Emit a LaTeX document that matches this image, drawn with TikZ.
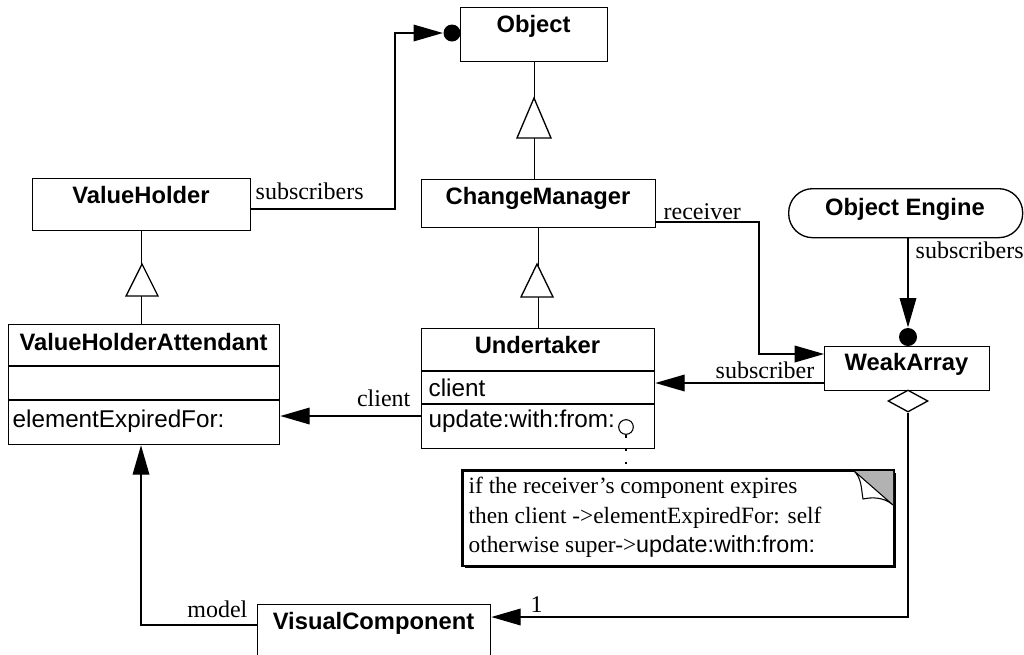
\documentclass[tikz,border=0pt]{standalone}
\usepackage{fontspec}
\setmainfont{Liberation Serif}
\setsansfont{Liberation Sans}
\usetikzlibrary{arrows.meta,shapes.geometric,calc}

\begin{document}
\begin{tikzpicture}[x=0.75pt,y=-0.75pt,line width=1pt,
  box/.style={draw,rectangle,inner sep=0pt,anchor=north west},
  title/.style={font=\sffamily\bfseries\fontsize{17.8}{20}\selectfont,anchor=base,inner sep=0pt},
  member/.style={font=\sffamily\fontsize{18.2}{20}\selectfont,anchor=base west,inner sep=0pt},
  role/.style={font=\fontsize{18}{20}\selectfont,inner sep=0pt},
  notetext/.style={font=\fontsize{17.5}{20}\selectfont,anchor=base west,inner sep=0pt},
  tip/.style={-{Triangle[length=22pt,width=12.5pt]}},
  gen/.style={draw,fill=white,line join=miter},
  dot/.style={circle,fill,inner sep=0pt},
]
\useasboundingbox (0,0) rectangle (1024,654);
\clip (0,0) rectangle (1024,654);

% class boxes
\node[box,minimum width=110.25pt,minimum height=40.5pt] (obj) at (460,7) {};
\node[box,minimum width=163.5pt,minimum height=39pt] (vh) at (32,178) {};
\node[box,minimum width=175.5pt,minimum height=36pt] (cm) at (421,179) {};
\node[box,minimum width=203.25pt,minimum height=90pt] (vha) at (8,324) {};
\node[box,minimum width=174.75pt,minimum height=90pt] (und) at (421,328) {};
\node[box,minimum width=123.75pt,minimum height=33pt] (wa) at (824,346) {};
\node[box,minimum width=174.75pt,minimum height=67.5pt] (vc) at (257,604) {};
\node[box,rounded corners=18pt,minimum width=175.5pt,minimum height=36.75pt] (oe) at (788,188) {};

% class names
\node[title] (objt) at (533.5,32) {Object};
\node[title] (vht) at (141,203) {ValueHolder};
\node[title] (cmt) at (538,204) {ChangeManager};
\node[title] (oet) at (905,215) {Object Engine};
\node[title] (vhat) at (143.5,350) {ValueHolderAttendant};
\node[title] (undt) at (537.5,353) {Undertaker};
\node[title] (wat) at (906.5,370) {WeakArray};
\node[title] (vct) at (373.5,629) {VisualComponent};

% compartments
\draw ($(vha.north west)+(0,42)$) -- ($(vha.north east)+(0,42)$);
\draw ($(vha.north west)+(0,76)$) -- ($(vha.north east)+(0,76)$);
\draw ($(und.north west)+(0,43)$) -- ($(und.north east)+(0,43)$);
\draw ($(und.north west)+(0,76)$) -- ($(und.north east)+(0,76)$);
\node[member] (vhaop) at (12,427) {elementExpiredFor:};
\node[member] (undat) at (428,396) {client};
\node[member] (undop) at (428,427) {update:with:from:};
\node[draw,circle,inner sep=0pt,minimum size=11pt,line width=0.8pt] (ucirc) at (626,427) {};

% generalizations
\draw (cm.north -| obj.south) -- (obj.south);
\draw[gen] (534,98) -- (517,138) -- (551,138) -- cycle;
\draw (und.north -| cm.south) -- (cm.south);
\draw[gen] (537,264) -- (521,297) -- (553,297) -- cycle;
\draw (vha.north -| vh.south) -- (vh.south);
\draw[gen] (142,264) -- (126,296) -- (158,296) -- cycle;

% ValueHolder subscribers -> Object
\node[dot,minimum size=12.75pt] (objdot) at (452,33) {};
\coordinate (s1) at (395,209);
\draw[tip] (vh.east |- s1) -- (s1) -- (s1 |- objdot) -- (objdot.west);
\node[role,anchor=base west] (s1l) at (255,199) {subscribers};

% ChangeManager receiver -> WeakArray
\coordinate (r1) at (759,222);
\coordinate (r2) at (759,354);
\draw[tip] (cm.east |- r1) -- (r1) -- (r2) -- (wa.west |- r2);
\node[role,anchor=base west] (r1l) at (663,219) {receiver};

% Object Engine subscribers -> WeakArray
\node[dot,minimum size=13.5pt] (wadot) at (908,337) {};
\draw[tip] (wadot |- oe.south) -- (wadot.north);
\node[role,anchor=base west] (oel) at (915,258) {subscribers};

% WeakArray subscriber -> Undertaker
\coordinate (sb) at (824,383);
\draw[tip] (wa.west |- sb) -- (und.east |- sb);
\node[role,anchor=base east] (sbl) at (815,378) {subscriber};

% Undertaker client -> ValueHolderAttendant
\coordinate (cl) at (421,416);
\draw[tip] (und.west |- cl) -- (vha.east |- cl);
\node[role,anchor=base east] (cll) at (411,406) {client};

% WeakArray aggregation of VisualComponent
\node[draw,diamond,fill=white,inner sep=0pt,minimum width=30pt,minimum height=16.5pt] (wadia) at (908,401) {};
\coordinate (ag) at (908,617);
\draw[tip] (wadia.south) -- (ag) -- (vc.east |- ag);
\node[role,anchor=base west] (agl) at (530,612) {1};

% VisualComponent model -> ValueHolderAttendant
\coordinate (md) at (141,625);
\draw[tip] (vc.west |- md) -- (md) -- (md |- vha.south);
\node[role,anchor=base east] (mdl) at (248,617) {model};

% note attached to update:with:from:
\fill (465,473) rectangle (895.5,567.5);
\node[box,fill=white,line width=1.2pt,minimum width=323.25pt,minimum height=71.25pt] (note) at (462,470) {};
\fill[black!30] (853,470) -- (893,470) -- (893,505) -- cycle;
\draw[line width=0.8pt,fill=white] (853,470) .. controls (862,478) and (861,488) .. (863,499)
  .. controls (872,497) and (884,497) .. (893,505) -- cycle;
\draw[line width=1.2pt] (note.north west) rectangle (note.south east);
\draw[line width=0.8pt,dash pattern=on 2pt off 8pt] (ucirc.south) -- (ucirc.south |- note.north);
\node[notetext] (n1) at (468,493) {if the receiver’s component expires};
\node[notetext] (n2) at (468,523) {then client ->elementExpiredFor: self};
\node[notetext] (n3) at (468,552) {otherwise super->{\sffamily update:with:from:}};
\end{tikzpicture}
\end{document}
